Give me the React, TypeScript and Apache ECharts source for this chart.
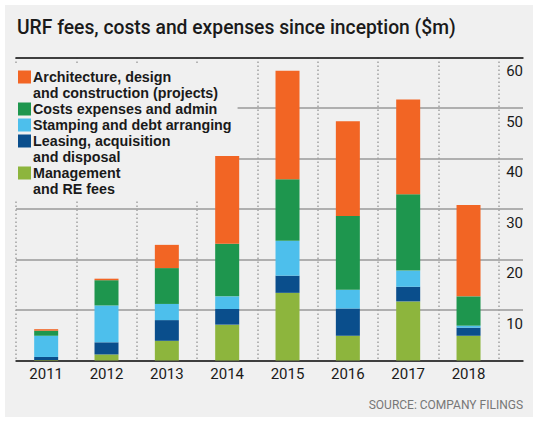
import React, { useEffect, useRef } from 'react';
import * as echarts from 'echarts';

const categories = ['2011', '2012', '2013', '2014', '2015', '2016', '2017', '2018'];
const management = [0.1, 1.2, 3.9, 7.1, 13.4, 4.9, 11.7, 4.9];
const leasing = [0.6, 2.4, 4.1, 3.1, 3.4, 5.4, 2.9, 1.6];
const stamping = [4.2, 7.3, 3.2, 2.5, 6.9, 3.7, 3.2, 0.4];
const costs = [1.0, 5.0, 7.1, 10.4, 12.2, 14.6, 15.1, 5.8];
const architecture = [0.3, 0.3, 4.6, 17.4, 21.5, 18.8, 18.8, 18.1];
const yMin = 0;
const yMax = 60;
const yInterval = 10;

const names = {
  architecture: 'Architecture, design\nand construction (projects)',
  costs: 'Costs expenses and admin',
  stamping: 'Stamping and debt arranging',
  leasing: 'Leasing, acquisition\nand disposal',
  management: 'Management\nand RE fees',
};

const colors = {
  architecture: '#f26524',
  costs: '#1e964e',
  stamping: '#4dbfec',
  leasing: '#0a4e8c',
  management: '#8db53d',
};

const FONT = 'Roboto, "Noto Sans", sans-serif';
const LEGEND_FONT = '"Liberation Sans", Arial, sans-serif';

export default function App() {
  const ref = useRef<HTMLDivElement>(null);
  useEffect(() => {
    const chart = echarts.init(ref.current!, null, { renderer: 'svg' });
    const legendOrder = ['architecture', 'costs', 'stamping', 'leasing', 'management'];
    const rich: any = {
      t: { fontSize: 14.3, fontWeight: 'bold', fontFamily: LEGEND_FONT, color: '#1a1a1a', lineHeight: 16 },
      g: { width: 2, lineHeight: 16 },
      p: { width: 15, lineHeight: 16 },
    };
    legendOrder.forEach((k, i) => {
      rich['s' + i] = { width: 13, height: 13, backgroundColor: (colors as any)[k], lineHeight: 16 };
    });
    const nameToIdx: Record<string, number> = {};
    legendOrder.forEach((k, i) => (nameToIdx[(names as any)[k]] = i));

    const mkSeries = (key: string, data: number[]) => ({
      name: (names as any)[key],
      type: 'bar',
      stack: 'total',
      xAxisIndex: 2,
      yAxisIndex: 1,
      barWidth: 24,
      z: 2,
      itemStyle: { color: (colors as any)[key] },
      data,
    });

    chart.setOption({
      animation: false,
      backgroundColor: 'transparent',
      title: [
        {
          text: 'URF fees, costs and expenses since inception ($m)',
          left: 17,
          top: 18,
          padding: 0,
          textStyle: { fontSize: 19.3, fontWeight: 500, color: '#1a1a1a', fontFamily: FONT },
        },
        {
          text: 'SOURCE: COMPANY FILINGS',
          right: 15,
          top: 399,
          padding: 0,
          textStyle: { fontSize: 12, fontWeight: 'normal', color: '#777', fontFamily: FONT },
        },
      ],
      legend: {
        orient: 'vertical',
        left: 10,
        top: 65,
        padding: [4, 6, 4, 3],
        itemGap: 0,
        itemWidth: 0,
        itemHeight: 16,
        icon: 'none',
        selectedMode: false,
        backgroundColor: '#f0f0f0',
        z: 1,
        data: legendOrder.map((k) => (names as any)[k]),
        formatter: (name: string) => {
          const i = nameToIdx[name];
          const lines = name.split('\n');
          return lines
            .map((l, j) => (j === 0 ? `{s${i}|}{g|}{t|${l}}` : `{p|}{t|${l}}`))
            .join('\n');
        },
        textStyle: { rich, fontSize: 14.3, fontWeight: 'bold', fontFamily: LEGEND_FONT, color: '#1a1a1a', lineHeight: 16 },
      },
      grid: [
        { left: 16, right: 15, top: 57.5, bottom: 61.5 },
        { left: 16, right: 39.3, top: 57.5, bottom: 61.5 },
      ],
      xAxis: [
        {
          gridIndex: 0,
          type: 'value',
          min: 0,
          max: 1,
          position: 'bottom',
          axisLine: { show: true, onZero: false, lineStyle: { color: '#1a1a1a', width: 1.5 } },
          axisTick: { show: false },
          axisLabel: { show: false },
          splitLine: { show: false },
        },
        {
          gridIndex: 0,
          type: 'value',
          min: 0,
          max: 1,
          position: 'top',
          axisLine: { show: true, onZero: false, lineStyle: { color: '#1a1a1a', width: 1.5 } },
          axisTick: { show: false },
          axisLabel: { show: false },
          splitLine: { show: false },
        },
        {
          gridIndex: 1,
          type: 'category',
          data: categories,
          axisLine: { show: false },
          axisTick: { show: false },
          axisLabel: { margin: 6, fontSize: 15, color: '#1a1a1a', fontFamily: FONT },
          splitLine: {
            show: true,
            interval: 0,
            lineStyle: { color: '#a0a0a0', width: 1.5, type: [1.5, 2.5] },
          },
        },
      ],
      yAxis: [
        {
          gridIndex: 0,
          type: 'value',
          min: yMin,
          max: yMax,
          interval: yInterval,
          position: 'right',
          axisLine: { show: false },
          axisTick: { show: false },
          axisLabel: {
            inside: true,
            margin: 0,
            align: 'right',
            verticalAlign: 'top',
            padding: [6, 0, 0, 0],
            lineHeight: 15,
            fontSize: 15,
            color: '#1a1a1a',
            fontFamily: FONT,
            formatter: (v: number) => (v === 0 ? '' : String(v)),
          },
          splitLine: { show: true, lineStyle: { color: '#9a9a9a', width: 1.5 } },
        },
        {
          gridIndex: 1,
          type: 'value',
          min: yMin,
          max: yMax,
          interval: yInterval,
          show: false,
        },
      ],
      series: [
        mkSeries('management', management),
        mkSeries('leasing', leasing),
        mkSeries('stamping', stamping),
        mkSeries('costs', costs),
        mkSeries('architecture', architecture),
      ],
    });
    return () => chart.dispose();
  }, []);
  return (
    <div style={{ position: 'fixed', left: 0, top: 0, width: 538, height: 422, background: '#fff' }}>
      <div style={{ position: 'absolute', left: 5, top: 5, width: 528, height: 412, background: '#f0f0f0' }} />
      <div ref={ref} style={{ position: 'absolute', left: 0, top: 0, width: 538, height: 422 }} />
    </div>
  );
}
